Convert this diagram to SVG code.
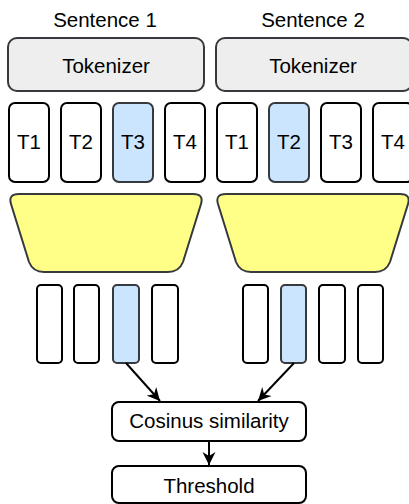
<svg xmlns="http://www.w3.org/2000/svg" width="409" height="504" viewBox="0 0 409 504">
<defs>
<style>
text{font-family:"Liberation Sans",Arial,sans-serif;font-size:20.5px;fill:#000;text-anchor:middle}
.tok{fill:#eeeeee;stroke:#36393d;stroke-width:2}
.box{fill:#fff;stroke:#000;stroke-width:2}
.sel{fill:#cce5ff;stroke:#36393d;stroke-width:2}
.enc{fill:#ffff88;stroke:#36393d;stroke-width:2}
.edge{fill:none;stroke:#000;stroke-width:2}
</style>
<marker id="arr" markerWidth="14" markerHeight="14" refX="13" refY="7" orient="auto" markerUnits="userSpaceOnUse" viewBox="0 0 14 14">
<path d="M0,0.5 L13,7 L0,13.5 L4,7 Z" fill="#000"/>
</marker>
</defs>
<g id="label-s1"><text x="105" y="27">Sentence 1</text></g>
<g id="label-s2"><text x="313" y="27">Sentence 2</text></g>
<g id="tokenizer1"><rect class="tok" x="8" y="38" width="196" height="53" rx="9"/><text x="106" y="73">Tokenizer</text></g>
<g id="tokenizer2"><rect class="tok" x="216" y="38" width="196" height="53" rx="9"/><text x="313" y="73">Tokenizer</text></g>
<g id="s1-t1"><rect class="box" x="9" y="103" width="40" height="79" rx="6"/><text x="29" y="149">T1</text></g>
<g id="s1-t2"><rect class="box" x="61" y="103" width="40" height="79" rx="6"/><text x="81" y="149">T2</text></g>
<g id="s1-t3"><rect class="sel" x="113" y="103" width="40" height="79" rx="6"/><text x="133" y="149">T3</text></g>
<g id="s1-t4"><rect class="box" x="165" y="103" width="40" height="79" rx="6"/><text x="185" y="149">T4</text></g>
<g id="s2-t1"><rect class="box" x="217" y="103" width="40" height="79" rx="6"/><text x="237" y="149">T1</text></g>
<g id="s2-t2"><rect class="sel" x="269" y="103" width="40" height="79" rx="6"/><text x="289" y="149">T2</text></g>
<g id="s2-t3"><rect class="box" x="321" y="103" width="40" height="79" rx="6"/><text x="341" y="149">T3</text></g>
<g id="s2-t4"><rect class="box" x="373" y="103" width="40" height="79" rx="6"/><text x="393" y="149">T4</text></g>
<g id="encoder1"><path class="enc" d="M19,194 L193,194 Q204,194 201,204 L183,262 Q179,272 168,272 L44,272 Q33,272 29,262 L11,204 Q8,194 19,194 Z"/></g>
<g id="encoder2"><path class="enc" transform="translate(207,0)" d="M19,194 L193,194 Q204,194 201,204 L183,262 Q179,272 168,272 L44,272 Q33,272 29,262 L11,204 Q8,194 19,194 Z"/></g>
<g id="s1-v1"><rect class="box" x="37" y="285" width="25" height="78" rx="4"/></g>
<g id="s1-v2"><rect class="box" x="74" y="285" width="25" height="78" rx="4"/></g>
<g id="s1-v3"><rect class="sel" x="113" y="285" width="26" height="78" rx="4"/></g>
<g id="s1-v4"><rect class="box" x="152" y="285" width="26" height="78" rx="4"/></g>
<g id="s2-v1"><rect class="box" x="243" y="285" width="25" height="78" rx="4"/></g>
<g id="s2-v2"><rect class="sel" x="281" y="285" width="25" height="78" rx="4"/></g>
<g id="s2-v3"><rect class="box" x="319" y="285" width="26" height="78" rx="4"/></g>
<g id="s2-v4"><rect class="box" x="358" y="285" width="25" height="78" rx="4"/></g>
<g id="cosine"><rect class="box" x="112" y="402" width="194" height="39" rx="7"/><text x="209" y="428">Cosinus similarity</text></g>
<g id="threshold"><rect class="box" x="112" y="466" width="194" height="37" rx="7"/><text x="209" y="493">Threshold</text></g>
<g id="connectors">
<path class="edge" d="M126,363 L160,401" marker-end="url(#arr)"/>
<path class="edge" d="M294,363 L258,401" marker-end="url(#arr)"/>
<path class="edge" d="M209,441 L209,465" marker-end="url(#arr)"/>
</g>
</svg>
